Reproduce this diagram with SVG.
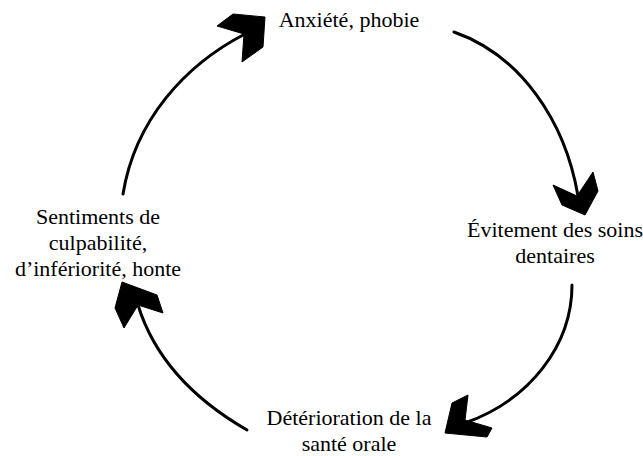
<svg xmlns="http://www.w3.org/2000/svg" width="643" height="456" viewBox="0 0 643 456">
<style>
  text { font-family: 'Liberation Serif', 'DejaVu Serif', 'Times New Roman', serif; font-size: 22px; fill: #000; text-anchor: middle; }
  .arc { fill: none; stroke: #000; stroke-width: 3; stroke-linecap: round; }
  .head { fill: #000; stroke: #000; stroke-width: 1; stroke-linejoin: miter; }
</style>
<rect width="643" height="456" fill="#fff"/>
<g id="connectors">
  <g id="c1">
    <path class="arc" d="M123,194 C135,120 185,65 245,34"/>
    <polygon class="head" points="265,17 233,14 217,26 244,34 242,62 263,47"/>
  </g>
  <g id="c2">
    <path class="arc" d="M454,32 C520,55 565,120 578,196"/>
    <polygon class="head" points="585,215 562,205 553,185 577,196 593,172 598,191"/>
  </g>
  <g id="c3">
    <path class="arc" d="M572,285 C572,345 530,400 465,423"/>
    <polygon class="head" points="445,433 452,403 468,395 465,420 492,428 487,437"/>
  </g>
  <g id="c4">
    <path class="arc" d="M247,430 C195,400 155,360 138,305"/>
    <polygon class="head" points="122,282 157,295 163,313 138,305 124,328 115,308"/>
  </g>
</g>
<g id="n1">
  <text x="349" y="27" font-family="Liberation Serif, serif">Anxiété, phobie</text>
</g>
<g id="n2">
  <text x="555" y="237" font-family="Liberation Serif, serif">Évitement des soins</text>
  <text x="555" y="263" font-family="Liberation Serif, serif">dentaires</text>
</g>
<g id="n3">
  <text x="349" y="425" font-family="Liberation Serif, serif">Détérioration de la</text>
  <text x="349" y="451" font-family="Liberation Serif, serif">santé orale</text>
</g>
<g id="n4">
  <text x="98" y="224" font-family="Liberation Serif, serif">Sentiments de</text>
  <text x="98" y="250" font-family="Liberation Serif, serif">culpabilité,</text>
  <text x="98" y="276" font-family="Liberation Serif, serif">d’infériorité, honte</text>
</g>
</svg>
